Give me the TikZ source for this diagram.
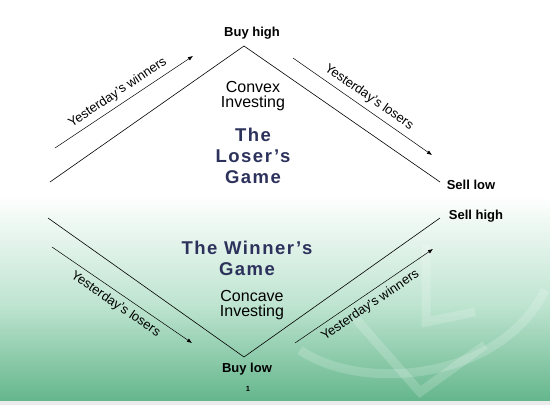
\documentclass[tikz,border=0pt]{standalone}
\usepackage{fontspec}
\setmainfont{Liberation Sans}
\usetikzlibrary{arrows.meta,positioning}
\definecolor{bggreen}{RGB}{100,182,140}
\definecolor{bgmid}{RGB}{190,228,208}
\definecolor{gamenavy}{RGB}{44,50,92}
\begin{document}
\begin{tikzpicture}[x=1pt,y=-1pt,
  leg/.style={line width=0.6pt,draw=black},
  trend/.style={line width=0.5pt,-{Latex[length=5pt,width=4pt]}},
  corner/.style={font=\fontsize{13}{14}\selectfont\bfseries,inner sep=1pt},
  tag/.style={font=\fontsize{13}{14}\selectfont,inner sep=1pt},
  style/.style={font=\fontsize{16}{15.5}\selectfont,align=center,inner sep=0pt},
  game/.style={font=\fontsize{18.5}{21}\selectfont\bfseries\addfontfeature{LetterSpace=8},text=gamenavy,align=center,inner sep=0pt}]
\useasboundingbox (0,0) rectangle (550,405);
% background
\fill[white] (0,0) rectangle (550,405);
\shade[top color=white,bottom color=bgmid] (0,195) rectangle (550,305);
\shade[top color=bgmid,bottom color=bggreen] (0,305) rectangle (550,401);
\fill[black!8!white] (0,401) rectangle (550,405);
% faint logo
\begin{scope}[white,opacity=0.18,line width=9pt]
\draw (300,350) .. controls (360,392) and (500,382) .. (545,290);
\draw (355,318) -- (420,392) -- (485,345);
\draw (426,245) -- (426,322) -- (475,312);
\end{scope}
% chevron points
\coordinate (hl) at (50,182);
\coordinate (hp) at (244,46);
\coordinate (hr) at (440,182);
\coordinate (ll) at (48,218);
\coordinate (lp) at (244,357);
\coordinate (lr) at (440,218);
\draw[leg] (hl) -- (hp) -- (hr);
\draw[leg] (ll) -- (lp) -- (lr);
% corner labels
\node[corner] (buyhigh) at (252,33) {Buy high};
\node[corner] (selllow) at (471,185) {Sell low};
\node[corner] (sellhigh) at (476,216) {Sell high};
\node[corner] (buylow) at (247,369) {Buy low};
\node[font=\fontsize{7.5}{8}\selectfont\bfseries] (page) at (248,389) {1};
% trend arrows
\coordinate (w1s) at (55,148);  \coordinate (w1e) at (193,56);
\coordinate (l1s) at (293,58);  \coordinate (l1e) at (432,155);
\coordinate (l2s) at (52,247);  \coordinate (l2e) at (192,343);
\coordinate (w2s) at (295,343); \coordinate (w2e) at (433,249);
\draw[trend] (w1s) -- node[tag,sloped,above=4pt] (w1) {Yesterday's winners} (w1e);
\draw[trend] (l1s) -- node[tag,sloped,above=4pt] (l1) {Yesterday's losers} (l1e);
\draw[trend] (l2s) -- node[tag,sloped,below=4pt] (l2) {Yesterday's losers} (l2e);
\draw[trend] (w2s) -- node[tag,sloped,below=4pt] (w2) {Yesterday's winners} (w2e);
% centre texts
\node[style] (convex) at (253,96) {Convex\\Investing};
\node[game] (loser) at (253,156) {The\\Loser's\\Game};
\node[game] (winner) at (247,258) {The Winner's\\Game};
\node[style] (concave) at (252,305) {Concave\\Investing};
\end{tikzpicture}
\end{document}
